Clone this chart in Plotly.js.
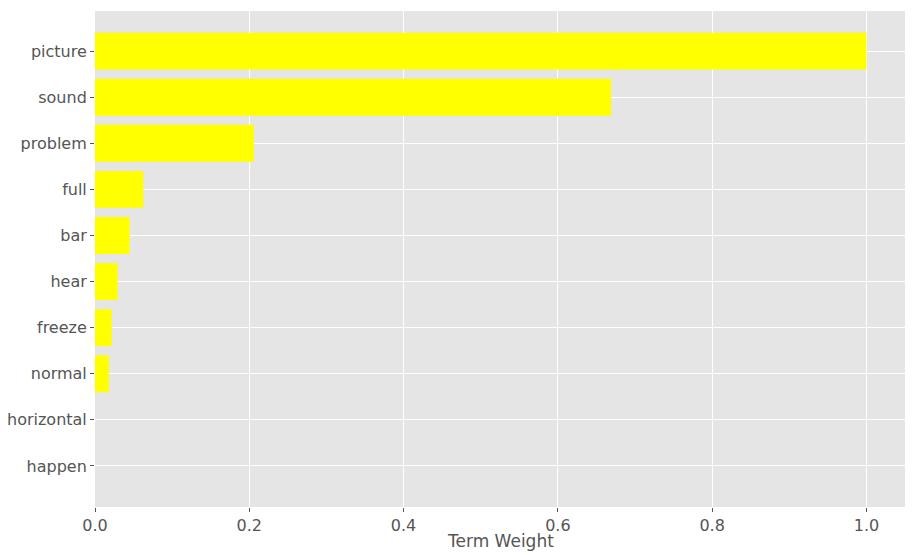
<!DOCTYPE html>
<html>
<head>
<meta charset="utf-8">
<script src="https://cdn.plot.ly/plotly-3.0.1.min.js"></script>
<style>html,body{margin:0;padding:0;background:#fff;}#chart{width:915px;height:555px;}</style>
</head>
<body>
<div id="chart"></div>
<script>
const terms = ["happen", "horizontal", "normal", "freeze", "hear", "bar", "full", "problem", "sound", "picture"];
const weights = [0.0, 0.0, 0.018, 0.0216, 0.0294, 0.0449, 0.0626, 0.206, 0.669, 1.0];
const xTickVals = [0.0, 0.2, 0.4, 0.6, 0.8, 1.0];
const xTickText = ["0.0", "0.2", "0.4", "0.6", "0.8", "1.0"];
const xTitle = "Term Weight";

const trace = {
  type: "bar",
  orientation: "h",
  x: weights,
  y: terms,
  width: 0.8,
  marker: {color: "#ffff00", line: {width: 0}},
  hoverinfo: "x+y"
};

const layout = {
  width: 915,
  height: 555,
  margin: {l: 95, r: 10, t: 11, b: 48},
  paper_bgcolor: "#ffffff",
  plot_bgcolor: "#e5e5e5",
  font: {family: "DejaVu Sans", size: 16, color: "#555555"},
  showlegend: false,
  xaxis: {
    range: [0, 1.05],
    tickvals: xTickVals,
    ticktext: xTickText,
    showgrid: true,
    gridcolor: "#ffffff",
    gridwidth: 1,
    zeroline: false,
    ticks: "outside",
    ticklen: 4,
    tickwidth: 1,
    tickcolor: "#555555",
    tickfont: {family: "DejaVu Sans", size: 16, color: "#555555"},
    automargin: false,
    showline: false
  },
  yaxis: {
    type: "category",
    categoryorder: "array",
    categoryarray: terms,
    range: [-0.89, 9.87],
    showgrid: true,
    gridcolor: "#ffffff",
    gridwidth: 1,
    zeroline: false,
    ticks: "outside",
    ticklen: 4,
    tickwidth: 1,
    tickcolor: "#555555",
    tickfont: {family: "DejaVu Sans", size: 16, color: "#555555"},
    automargin: false,
    showline: false
  },
  annotations: [{
    text: xTitle,
    xref: "paper", yref: "paper",
    x: 0.5, y: 0,
    xanchor: "center", yanchor: "middle",
    yshift: -34,
    showarrow: false,
    font: {family: "DejaVu Sans", size: 17, color: "#555555"}
  }]
};

Plotly.newPlot("chart", [trace], layout, {displayModeBar: false, staticPlot: true});
</script>
</body>
</html>
